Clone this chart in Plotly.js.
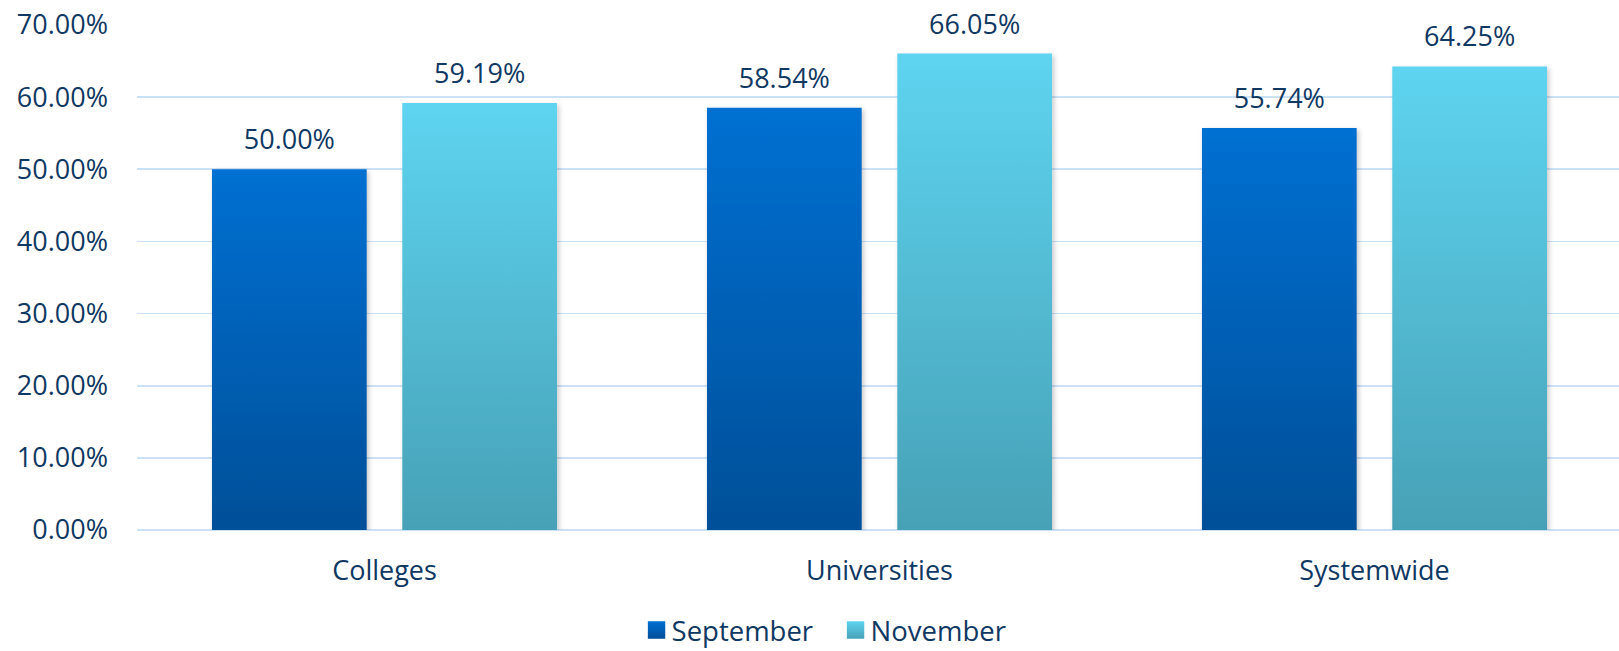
<!DOCTYPE html>
<html>
<head>
<meta charset="utf-8">
<script src="https://cdn.plot.ly/plotly-3.0.1.min.js"></script>
<style>
  html, body { margin: 0; padding: 0; background: #ffffff; }
  #chart { width: 1619px; height: 651px; }
</style>
</head>
<body>
<div id="chart"></div>
<script>
const categories = ["Colleges", "Universities", "Systemwide"];
const septemberValues = [50.00, 58.54, 55.74];
const novemberValues = [59.19, 66.05, 64.25];
const seriesNames = ["September", "November"];
const yTickValues = [0, 10, 20, 30, 40, 50, 60, 70];
const yTickText = yTickValues.map(v => v.toFixed(2) + "%");

const textColor = "#0F3862";
const fontFamily = "'Open Sans', 'Noto Sans', sans-serif";

const traces = [
  {
    type: "bar", name: seriesNames[0], x: categories, y: septemberValues,
    marker: { color: "#0063BA", line: { width: 0 } },
    texttemplate: "%{y:.2f}%", textposition: "outside", cliponaxis: false,
    textfont: { family: fontFamily, size: 27, color: textColor },
    hoverinfo: "skip"
  },
  {
    type: "bar", name: seriesNames[1], x: categories, y: novemberValues,
    marker: { color: "#55BDD6", line: { width: 0 } },
    texttemplate: "%{y:.2f}%", textposition: "outside", cliponaxis: false,
    textfont: { family: fontFamily, size: 27, color: textColor },
    hoverinfo: "skip"
  }
];

const layout = {
  width: 1619, height: 651,
  margin: { l: 137, r: 0, t: 25, b: 121 },
  paper_bgcolor: "#ffffff", plot_bgcolor: "#ffffff",
  font: { family: fontFamily, size: 27, color: textColor },
  barmode: "group", bargap: 0.231, bargroupgap: 0.187,
  showlegend: true,
  legend: {
    orientation: "h", x: 0.513, xanchor: "center", xref: "container",
    y: 0.032, yanchor: "middle", yref: "container",
    entrywidth: 154,
    font: { family: fontFamily, size: 27.5, color: textColor },
    itemclick: false, itemdoubleclick: false
  },
  xaxis: {
    type: "category", range: [-0.5, 2.494],
    showgrid: false, zeroline: false, showline: false,
    ticks: "", ticklabelstandoff: 22,
    tickfont: { family: fontFamily, size: 27, color: textColor },
    automargin: false, fixedrange: true
  },
  yaxis: {
    range: [0, 70], tickvals: yTickValues, ticktext: yTickText,
    showgrid: true, gridcolor: "#CBE1F6", gridwidth: 1.6,
    zeroline: true, zerolinecolor: "#CBE1F6", zerolinewidth: 1.6,
    showline: false, ticks: "", ticklabelstandoff: 28,
    tickfont: { family: fontFamily, size: 27, color: textColor },
    automargin: false, fixedrange: true
  }
};

Plotly.newPlot("chart", traces, layout, { staticPlot: true, displayModeBar: false }).then(function (gd) {
  const svgNS = "http://www.w3.org/2000/svg";
  const svg = gd.querySelector(".main-svg");
  let defs = svg.querySelector("defs");
  if (!defs) { defs = document.createElementNS(svgNS, "defs"); svg.insertBefore(defs, svg.firstChild); }
  function addGrad(id, top, bottom) {
    const g = document.createElementNS(svgNS, "linearGradient");
    g.setAttribute("id", id);
    g.setAttribute("x1", "0"); g.setAttribute("y1", "0");
    g.setAttribute("x2", "0"); g.setAttribute("y2", "1");
    const s1 = document.createElementNS(svgNS, "stop");
    s1.setAttribute("offset", "0"); s1.setAttribute("stop-color", top);
    const s2 = document.createElementNS(svgNS, "stop");
    s2.setAttribute("offset", "1"); s2.setAttribute("stop-color", bottom);
    g.appendChild(s1); g.appendChild(s2); defs.appendChild(g);
  }
  addGrad("gradSep", "#0070D2", "#004F98");
  addGrad("gradNov", "#5ED4F0", "#47A1B6");
  const f = document.createElementNS(svgNS, "filter");
  f.setAttribute("id", "barShadow");
  f.setAttribute("x", "-10%"); f.setAttribute("y", "-10%");
  f.setAttribute("width", "130%"); f.setAttribute("height", "130%");
  const ds = document.createElementNS(svgNS, "feDropShadow");
  ds.setAttribute("dx", "2"); ds.setAttribute("dy", "2");
  ds.setAttribute("stdDeviation", "2.5");
  ds.setAttribute("flood-color", "#000"); ds.setAttribute("flood-opacity", "0.22");
  f.appendChild(ds); defs.appendChild(f);

  const grads = ["url(#gradSep)", "url(#gradNov)"];
  gd.querySelectorAll(".barlayer .trace").forEach(function (tr, i) {
    tr.querySelectorAll(".point path").forEach(function (p) {
      p.style.fill = grads[i];
      p.setAttribute("filter", "url(#barShadow)");
    });
    tr.querySelectorAll(".point text").forEach(function (t) {
      const tf = t.getAttribute("transform") || "";
      t.setAttribute("transform", "translate(0,-9) " + tf);
    });
  });
  gd.querySelectorAll(".legend .traces").forEach(function (tr, i) {
    tr.querySelectorAll(".legendpoints path").forEach(function (p) {
      p.style.fill = grads[i];
      p.style.stroke = "none";
      const tf = p.getAttribute("transform") || "";
      p.setAttribute("transform", "translate(5,0) " + tf + " scale(1.45)");
    });
  });
});
</script>
</body>
</html>
